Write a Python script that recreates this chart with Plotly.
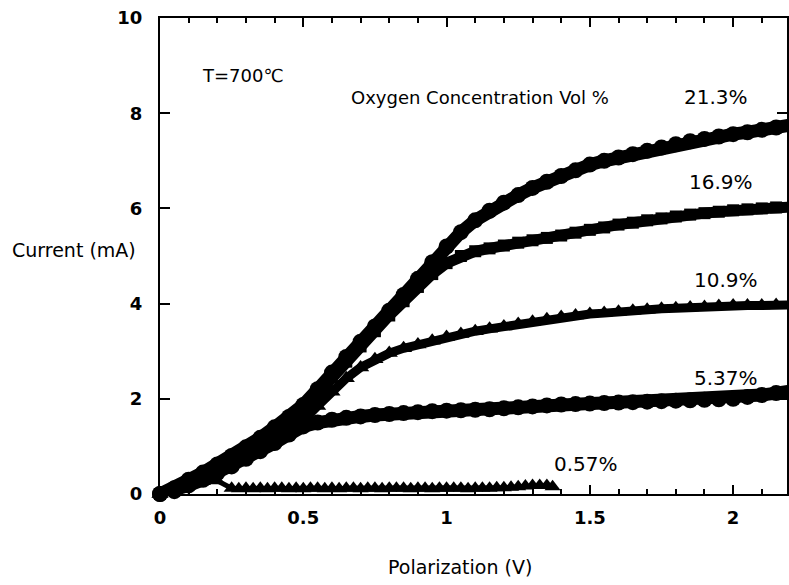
import plotly.graph_objects as go

# ---- data ----
x_main = [0, 0.05, 0.1, 0.15, 0.2, 0.25, 0.3, 0.35, 0.4, 0.45, 0.5, 0.55, 0.6, 0.65, 0.7,
          0.75, 0.8, 0.85, 0.9, 0.95, 1.0, 1.05, 1.1, 1.15, 1.2, 1.25, 1.3, 1.35, 1.4, 1.45,
          1.5, 1.55, 1.6, 1.65, 1.7, 1.75, 1.8, 1.85, 1.9, 1.95, 2.0, 2.05, 2.1, 2.15, 2.2]

y_213 = [0, 0.12, 0.3, 0.45, 0.62, 0.8, 0.98, 1.18, 1.4, 1.62, 1.87, 2.2, 2.55, 2.88, 3.2,
         3.52, 3.85, 4.18, 4.52, 4.87, 5.2, 5.5, 5.75, 5.95, 6.12, 6.28, 6.43, 6.56, 6.68, 6.8,
         6.92, 7.0, 7.07, 7.14, 7.21, 7.28, 7.35, 7.41, 7.46, 7.51, 7.56, 7.6, 7.65, 7.7, 7.75]

y_169 = [0, 0.1, 0.27, 0.42, 0.58, 0.75, 0.92, 1.12, 1.32, 1.54, 1.78, 2.1, 2.45, 2.78, 3.1,
         3.42, 3.75, 4.05, 4.35, 4.62, 4.85, 5.0, 5.1, 5.16, 5.22, 5.28, 5.33, 5.38, 5.43, 5.49,
         5.55, 5.6, 5.66, 5.7, 5.75, 5.79, 5.83, 5.87, 5.9, 5.93, 5.96, 5.98, 6.0, 6.02, 6.03]

y_109 = [0, 0.07, 0.2, 0.34, 0.48, 0.62, 0.78, 0.95, 1.13, 1.33, 1.55, 1.85, 2.15, 2.43, 2.66,
         2.83, 2.96, 3.06, 3.14, 3.22, 3.3, 3.36, 3.42, 3.47, 3.52, 3.57, 3.62, 3.67, 3.72, 3.75,
         3.78, 3.8, 3.83, 3.85, 3.87, 3.89, 3.9, 3.92, 3.93, 3.95, 3.96, 3.96, 3.96, 3.97, 3.97]

y_537 = [0, 0.06, 0.18, 0.3, 0.44, 0.58, 0.74, 0.9, 1.07, 1.25, 1.42, 1.5, 1.56, 1.6, 1.63,
         1.66, 1.68, 1.7, 1.72, 1.74, 1.75, 1.76, 1.77, 1.78, 1.8, 1.82, 1.84, 1.86, 1.88, 1.89,
         1.9, 1.91, 1.92, 1.93, 1.94, 1.95, 1.96, 1.97, 1.98, 1.99, 2.0, 2.04, 2.08, 2.12, 2.16]

x_057 = [0, 0.05, 0.1, 0.15, 0.2, 0.25, 0.275, 0.3, 0.325, 0.35, 0.375, 0.4, 0.425, 0.45,
         0.475, 0.5, 0.525, 0.55, 0.575, 0.6, 0.625, 0.65, 0.675, 0.7, 0.725, 0.75, 0.775,
         0.8, 0.825, 0.85, 0.875, 0.9, 0.925, 0.95, 0.975, 1.0, 1.025, 1.05, 1.075, 1.1,
         1.125, 1.15, 1.175, 1.2, 1.225, 1.25, 1.275, 1.3, 1.325, 1.35, 1.37]
y_057 = [0, 0.08, 0.18, 0.26, 0.28,
         0.12, 0.11, 0.12, 0.11, 0.12, 0.11, 0.12, 0.12, 0.11, 0.12,
         0.11, 0.12, 0.12, 0.11, 0.12, 0.11, 0.12, 0.12, 0.11, 0.12,
         0.12, 0.11, 0.12, 0.12, 0.12, 0.11, 0.12, 0.12, 0.11, 0.12,
         0.12, 0.12, 0.12, 0.11, 0.12, 0.12, 0.12, 0.13, 0.13, 0.14,
         0.15, 0.17, 0.18, 0.18, 0.18, 0.15]

x_ticks = [0, 0.5, 1, 1.5, 2]
x_tick_text = ["0", "0.5", "1", "1.5", "2"]
y_ticks = [0, 2, 4, 6, 8, 10]

labels = ["21.3%", "16.9%", "10.9%", "5.37%", "0.57%"]
label_x = [1.823, 1.84, 1.858, 1.858, 1.368]
label_y = [8.34, 6.55, 4.5, 2.44, 0.63]

fig = go.Figure()

def add(x, y, symbol, msize, lwidth):
    fig.add_trace(go.Scatter(
        x=x, y=y, mode="lines+markers", cliponaxis=False,
        line=dict(color="black", width=lwidth),
        marker=dict(color="black", symbol=symbol, size=msize),
        hoverinfo="skip"))

add(x_main, y_213, "circle", 16, 13)
add(x_main, y_169, "square", 12, 11)
add(x_main, y_109, "triangle-up", 15, 9)
add(x_main, y_537, "circle", 16, 13)
add(x_057, y_057, "triangle-up", 14, 5)

fnt = "DejaVu Sans, Arial, sans-serif"
ann = []
for t, ax, ay in zip(labels, label_x, label_y):
    ann.append(dict(x=ax, y=ay, xref="x", yref="y", text=t, showarrow=False,
                    xanchor="left", yanchor="middle", font=dict(size=20, family=fnt)))
ann.append(dict(x=0.139, y=8.8, xref="x", yref="y", text="T=700℃", showarrow=False,
                xanchor="left", yanchor="middle", font=dict(size=18, family=fnt)))
ann.append(dict(x=0.66, y=8.34, xref="x", yref="y", text="Oxygen Concentration Vol %",
                showarrow=False, xanchor="left", yanchor="middle", font=dict(size=18, family=fnt)))
ann.append(dict(x=-0.2385, y=0.513, xref="paper", yref="paper", text="Current (mA)",
                showarrow=False, xanchor="left", yanchor="middle", font=dict(size=19, family=fnt)))
ann.append(dict(x=0.479, y=-0.153, xref="paper", yref="paper", text="Polarization (V)",
                showarrow=False, xanchor="center", yanchor="middle", font=dict(size=19, family=fnt)))

fig.update_layout(
    width=789, height=585,
    margin=dict(l=160, r=0, t=18, b=91),
    plot_bgcolor="white", paper_bgcolor="white",
    showlegend=False,
    font=dict(family=fnt, color="black"),
    annotations=ann,
    xaxis=dict(range=[0, 2.188], tickvals=x_ticks, ticktext=x_tick_text,
               ticks="inside", ticklen=9, tickwidth=2, tickcolor="black",
               showline=True, linewidth=2, linecolor="black", mirror="ticks",
               minor=dict(dtick=0.1, ticks="inside", ticklen=5, tickwidth=2, tickcolor="black"),
               showgrid=False, zeroline=False, ticklabelstandoff=6,
               tickfont=dict(size=18, family=fnt, weight="bold")),
    yaxis=dict(range=[0, 10], tickvals=y_ticks,
               ticks="inside", ticklen=10, tickwidth=2, tickcolor="black",
               showline=True, linewidth=2, linecolor="black", mirror="ticks",
               showgrid=False, zeroline=False, ticklabelstandoff=12,
               tickfont=dict(size=18, family=fnt, weight="bold")),
)

fig.write_html("out.html")
